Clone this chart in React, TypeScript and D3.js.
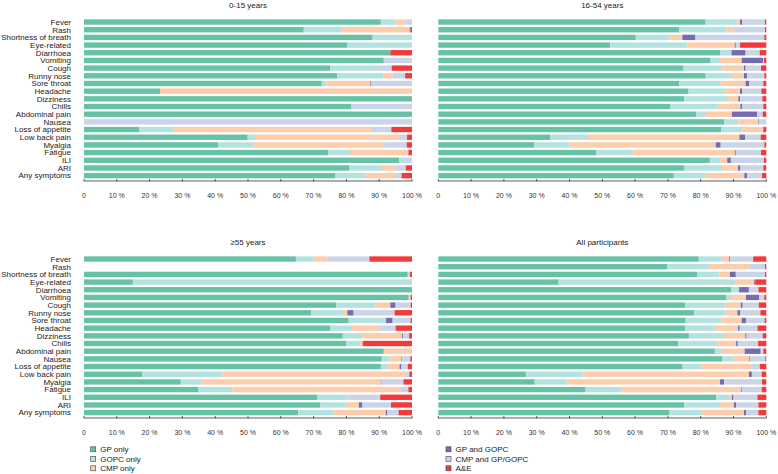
import React from "react";
import * as d3 from "d3";

const categories = [
  "Fever", "Rash", "Shortness of breath", "Eye-related", "Diarrhoea", "Vomiting", "Cough",
  "Runny nose", "Sore throat", "Headache", "Dizziness", "Chills", "Abdominal pain", "Nausea",
  "Loss of appetite", "Low back pain", "Myalgia", "Fatigue", "ILI", "ARI", "Any symptoms",
];

const seriesNames = ["GP only", "GOPC only", "CMP only", "GP and GOPC", "CMP and GP/GOPC", "A&E"];
const seriesColors = ["#66c2a5", "#b3e2e0", "#fdcdac", "#756bb1", "#cbd5e8", "#f23a3a"];

const tickValues = [0, 0.1, 0.2, 0.3, 0.4, 0.5, 0.6, 0.7, 0.8, 0.9, 1];
const tickLabels = ["0", "10 %", "20 %", "30 %", "40 %", "50 %", "60 %", "70 %", "80 %", "90 %", "100 %"];

// each row: [GP only, GOPC only, CMP only, GP and GOPC, CMP and GP/GOPC, A&E] (%)
const age0to15 = [
  [90.5, 4.4, 3.2, 0, 1.9, 0],
  [67.0, 11.6, 20.7, 0.3, 0, 0.4],
  [88.0, 12.0, 0, 0, 0, 0],
  [80.3, 19.7, 0, 0, 0, 0],
  [93.4, 0, 0, 0, 0, 6.6],
  [91.4, 0, 0, 0, 8.6, 0],
  [75.0, 13.7, 0, 0, 5.1, 6.2],
  [77.2, 14.1, 2.8, 0, 3.8, 2.1],
  [72.5, 1.4, 13.4, 0.3, 12.4, 0],
  [23.2, 0, 76.8, 0, 0, 0],
  [100, 0, 0, 0, 0, 0],
  [81.5, 0, 0, 0, 18.5, 0],
  [100, 0, 0, 0, 0, 0],
  [0, 0, 0, 0, 100, 0],
  [16.9, 10.3, 60.4, 0, 6.1, 6.3],
  [49.9, 2.6, 43.8, 0, 2.2, 1.5],
  [40.9, 11.0, 39.5, 0, 7.0, 1.6],
  [74.4, 6.7, 17.4, 0, 0.4, 1.1],
  [96.1, 1.8, 0, 0, 2.1, 0],
  [80.8, 10.0, 4.4, 0, 2.9, 1.9],
  [76.7, 9.2, 9.2, 0, 1.7, 3.2],
];

const age16to54 = [
  [81.5, 9.5, 1.0, 0.7, 6.9, 0.4],
  [73.5, 14.4, 2.2, 0, 9.5, 0.4],
  [60.2, 10.2, 4.0, 4.0, 21.0, 0.6],
  [52.4, 23.6, 14.4, 0.3, 1.3, 8.0],
  [86.0, 3.4, 0, 4.3, 4.3, 2.0],
  [83.0, 2.9, 6.6, 6.5, 0.3, 0.7],
  [74.6, 12.1, 6.5, 0.5, 4.7, 1.6],
  [81.5, 7.7, 4.0, 0.9, 5.3, 0.6],
  [73.5, 12.6, 7.6, 1.1, 4.3, 0.9],
  [76.3, 11.3, 4.4, 0.6, 5.9, 1.5],
  [74.9, 13.1, 3.5, 0.5, 6.8, 1.2],
  [70.8, 14.2, 7.1, 0.6, 6.4, 0.9],
  [78.6, 3.0, 7.9, 7.7, 1.7, 1.1],
  [87.1, 4.4, 6.1, 0.2, 2.2, 0],
  [86.2, 6.5, 5.8, 0, 0.6, 0.9],
  [34.1, 11.5, 46.2, 1.7, 4.8, 1.7],
  [29.2, 10.8, 44.6, 1.5, 13.3, 0.6],
  [48.1, 11.2, 31.1, 0.3, 7.7, 1.6],
  [82.8, 3.1, 2.2, 1.1, 10.1, 0.7],
  [74.9, 11.6, 4.9, 0.7, 7.0, 0.9],
  [71.8, 9.7, 11.8, 0.8, 4.6, 1.3],
];

const age55plus = [
  [64.6, 5.4, 4.2, 0, 12.8, 13.0],
  [0, 0, 0, 0, 0, 0],
  [98.7, 0.7, 0, 0, 0, 0.6],
  [14.9, 85.1, 0, 0, 0, 0],
  [100, 0, 0, 0, 0, 0],
  [99.0, 0, 0.6, 0, 0, 0.4],
  [76.9, 12.0, 4.5, 1.6, 4.6, 0.4],
  [69.3, 9.7, 1.3, 1.9, 12.5, 5.3],
  [80.7, 11.4, 0, 2.0, 5.5, 0.4],
  [75.0, 6.7, 8.5, 0, 4.8, 5.0],
  [78.9, 5.9, 12.2, 0.3, 1.8, 0.9],
  [80.0, 4.1, 0.9, 0, 0, 15.0],
  [91.4, 0, 8.6, 0, 0, 0],
  [90.8, 2.4, 3.6, 0.2, 2.5, 0.5],
  [90.5, 2.2, 3.5, 0.6, 1.9, 1.3],
  [17.7, 24.5, 56.0, 0, 1.0, 0.8],
  [29.5, 6.2, 54.8, 0.2, 6.7, 2.6],
  [34.9, 10.4, 51.3, 0, 2.3, 1.1],
  [71.2, 9.4, 0, 0, 9.7, 9.7],
  [72.1, 7.7, 4.0, 1.1, 8.7, 6.4],
  [65.3, 10.7, 16.0, 0.5, 3.4, 4.1],
];

const allParticipants = [
  [79.4, 6.8, 2.5, 0.3, 7.0, 4.0],
  [69.9, 12.9, 12.2, 0, 4.6, 0.4],
  [78.9, 6.8, 3.2, 1.8, 8.9, 0.4],
  [36.7, 53.7, 5.9, 0.3, 0, 3.4],
  [89.3, 2.4, 0, 3.0, 2.9, 2.4],
  [87.9, 1.7, 4.2, 4.0, 1.6, 0.6],
  [75.2, 12.4, 4.6, 0.6, 4.9, 2.3],
  [78.0, 9.6, 3.6, 0.9, 6.1, 1.8],
  [75.4, 10.9, 6.2, 1.3, 5.7, 0.5],
  [75.2, 9.5, 6.7, 0.5, 5.4, 2.7],
  [76.4, 10.7, 6.5, 0.4, 4.9, 1.1],
  [73.1, 11.8, 5.9, 0.5, 6.2, 2.5],
  [84.3, 1.9, 7.2, 4.9, 0.8, 0.9],
  [86.5, 3.5, 4.8, 0.2, 4.7, 0.3],
  [74.5, 5.8, 15.3, 0, 2.4, 2.0],
  [26.7, 17.3, 50.7, 0.9, 3.0, 1.4],
  [29.4, 10.0, 46.5, 1.2, 11.6, 1.3],
  [44.9, 11.0, 36.5, 0.2, 6.0, 1.4],
  [84.7, 4.2, 0.6, 0.5, 7.3, 2.7],
  [75.0, 10.9, 4.2, 0.7, 6.8, 2.4],
  [70.5, 9.8, 12.9, 0.6, 3.8, 2.4],
];

const panelTitles = ["0-15 years", "16-54 years", "≥55 years", "All participants"];
const panelData = [age0to15, age16to54, age55plus, allParticipants];

const FONT = "'Liberation Sans', Arial, Helvetica, sans-serif";
const W = 778;
const H = 474;
const PANEL_W = 328;
const colX = [84, 438.3];
const rowTop = [18.2, 255.2];
const BAND_H = 21 * 7.68;

function Panel({ title, rows, x0, y0, showLabels }: any) {
  const x = d3.scaleLinear().domain([0, 1]).range([0, PANEL_W]);
  const y = d3.scaleBand<string>().domain(categories).range([0, BAND_H]).paddingInner(0.3).paddingOuter(0.15);
  const table = rows.map((r: number[], i: number) => {
    const o: any = { cat: categories[i] };
    seriesNames.forEach((s, j) => (o[s] = r[j]));
    return o;
  });
  const stacked = d3.stack<any>().keys(seriesNames).offset(d3.stackOffsetExpand)(table);
  const axisY = BAND_H + 1.5;
  return (
    <g transform={`translate(${x0},${y0})`}>
      <text x={PANEL_W / 2} y={-10.5} textAnchor="middle" fontSize={8} fill="#222" fontFamily={FONT}>
        {title}
      </text>
      {stacked.map((s, j) => (
        <g key={s.key} fill={seriesColors[j]}>
          {s.map((d, i) => {
            const w = x(d[1]) - x(d[0]);
            if (!(w > 0)) return null;
            return <rect key={i} x={x(d[0])} y={y(categories[i])} width={w} height={y.bandwidth()} />;
          })}
        </g>
      ))}
      {showLabels &&
        categories.map((c) => (
          <text key={c} x={-13} y={(y(c) as number) + y.bandwidth() / 2 + 2.8} textAnchor="end" fontSize={8} fill="#222" fontFamily={FONT}>
            {c}
          </text>
        ))}
      <line x1={0} x2={PANEL_W} y1={axisY} y2={axisY} stroke="#333" strokeWidth={0.8} />
      {tickValues.map((t, i) => (
        <g key={t} transform={`translate(${x(t)},${axisY})`}>
          <line y1={-2} y2={0.5} stroke="#333" strokeWidth={0.8} />
          <text y={17} textAnchor="middle" fontSize={7} fill="#333" fontFamily={FONT}>
            {tickLabels[i]}
          </text>
        </g>
      ))}
    </g>
  );
}

function Legend({ names, colors, x0, y0 }: any) {
  return (
    <g transform={`translate(${x0},${y0})`}>
      {names.map((n: string, i: number) => (
        <g key={n} transform={`translate(0,${i * 9.5})`}>
          <rect x={0} y={-2.5} width={5} height={5} fill={colors[i]} stroke="#444" strokeWidth={0.6} />
          <text x={9.5} y={2.8} fontSize={8} fill="#222" fontFamily={FONT}>
            {n}
          </text>
        </g>
      ))}
    </g>
  );
}

export default function App() {
  return (
    <svg width={W} height={H} style={{ position: "absolute", left: 0, top: 0, background: "#fff" }}>
      {panelData.map((rows, k) => (
        <Panel
          key={k}
          title={panelTitles[k]}
          rows={rows}
          x0={colX[k % 2]}
          y0={rowTop[Math.floor(k / 2)]}
          showLabels={k % 2 === 0}
        />
      ))}
      <Legend names={seriesNames.slice(0, 3)} colors={seriesColors.slice(0, 3)} x0={90.7} y0={449.3} />
      <Legend names={seriesNames.slice(3)} colors={seriesColors.slice(3)} x0={446} y0={449.3} />
    </svg>
  );
}
